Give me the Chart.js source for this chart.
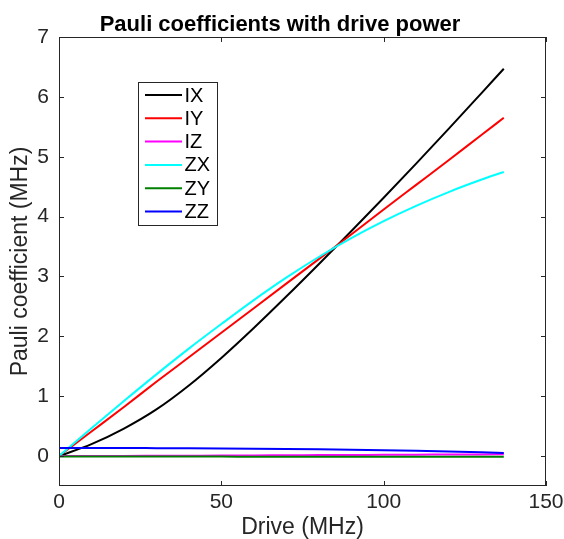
<!DOCTYPE html>
<html>
<head>
<meta charset="utf-8">
<script src="https://cdn.jsdelivr.net/npm/chart.js@4/dist/chart.umd.min.js"></script>
<style>
    html, body { margin: 0; padding: 0; background: #fff; }
    #wrap { width: 564px; height: 539px; }
</style>
</head>
<body>
<div id="wrap"><canvas id="chart" width="564" height="539"></canvas></div>
<script>
const drive = [0, 10, 20, 30, 40, 50, 60, 70, 80, 90, 100, 110, 120, 130, 137];

const IX = [0, 0.20, 0.46, 0.78, 1.18, 1.64, 2.14, 2.665, 3.205, 3.755, 4.315, 4.885, 5.465, 6.055, 6.47];
const IY = [0, 0.41, 0.82, 1.24, 1.65, 2.06, 2.47, 2.88, 3.29, 3.7, 4.12, 4.53, 4.94, 5.36, 5.65];
const IZ = [0, 0.001, 0.002, 0.004, 0.006, 0.008, 0.011, 0.013, 0.016, 0.018, 0.021, 0.023, 0.026, 0.028, 0.03];
const ZX = [0, 0.465, 0.92, 1.365, 1.795, 2.205, 2.605, 2.98, 3.325, 3.64, 3.925, 4.18, 4.41, 4.615, 4.745];
const ZY = [-0.008, -0.008, -0.008, -0.009, -0.009, -0.009, -0.01, -0.01, -0.01, -0.011, -0.011, -0.012, -0.012, -0.013, -0.013];
const ZZ = [0.135, 0.135, 0.134, 0.132, 0.13, 0.127, 0.123, 0.118, 0.112, 0.105, 0.097, 0.087, 0.075, 0.062, 0.052];

const seriesNames = ["IX", "IY", "IZ", "ZX", "ZY", "ZZ"];
const seriesValues = [IX, IY, IZ, ZX, ZY, ZZ];
const seriesColors = ["#000000", "#ff0000", "#ff00ff", "#00ffff", "#008000", "#0000ff"];

const xTicks = [0, 50, 100, 150];
const yTicks = [0, 1, 2, 3, 4, 5, 6, 7];

const FONT = "'Liberation Sans', Arial, Helvetica, sans-serif";
const AXIS = "#262626";

// box, inward ticks, title and legend in MATLAB style
const matlabStyle = {
    id: "matlabStyle",
    afterDatasetsDraw(chart) {
        const { ctx, chartArea: a, scales } = chart;
        ctx.save();
        ctx.strokeStyle = AXIS;
        ctx.lineWidth = 1;
        ctx.strokeRect(a.left + 0.5, a.top + 0.5, a.right - a.left - 1, a.bottom - a.top - 1);

        const tl = 5;
        ctx.beginPath();
        xTicks.forEach(v => {
            const px = Math.round(scales.x.getPixelForValue(v)) + 0.5;
            ctx.moveTo(px, a.bottom); ctx.lineTo(px, a.bottom - tl);
            ctx.moveTo(px, a.top); ctx.lineTo(px, a.top + tl);
        });
        yTicks.forEach(v => {
            const py = Math.round(scales.y.getPixelForValue(v)) + 0.5;
            ctx.moveTo(a.left, py); ctx.lineTo(a.left + tl, py);
            ctx.moveTo(a.right, py); ctx.lineTo(a.right - tl, py);
        });
        ctx.stroke();

        // title
        ctx.fillStyle = "#000";
        ctx.font = "bold 22px " + FONT;
        ctx.textAlign = "center";
        ctx.textBaseline = "alphabetic";
        ctx.fillText("Pauli coefficients with drive power", 280, 31);

        // legend
        const lx = 138.5, ly = 82.5, lw = 79, lh = 143, row = 23.3;
        ctx.fillStyle = "#fff";
        ctx.fillRect(lx, ly, lw, lh);
        ctx.strokeStyle = AXIS;
        ctx.strokeRect(lx, ly, lw, lh);
        ctx.font = "20px " + FONT;
        ctx.textAlign = "left";
        ctx.textBaseline = "middle";
        chart.data.datasets.forEach((ds, i) => {
            const cy = ly + 12.5 + i * row;
            ctx.strokeStyle = ds.borderColor;
            ctx.lineWidth = 2;
            ctx.beginPath();
            ctx.moveTo(lx + 6.5, cy); ctx.lineTo(lx + 43.5, cy);
            ctx.stroke();
            ctx.fillStyle = "#000";
            ctx.fillText(ds.label, lx + 46, cy + 1);
        });
        ctx.restore();
    }
};

new Chart(document.getElementById("chart"), {
    type: "line",
    data: {
        datasets: seriesNames.map((name, i) => ({
            label: name,
            data: drive.map((d, k) => ({ x: d, y: seriesValues[i][k] })),
            borderColor: seriesColors[i],
            backgroundColor: seriesColors[i],
            borderWidth: 2,
            pointRadius: 0,
            cubicInterpolationMode: "monotone",
            order: seriesNames.length - i
        }))
    },
    options: {
        responsive: false,
        animation: false,
        events: [],
        layout: { padding: { top: 37, right: 18, left: 0, bottom: 0 } },
        plugins: {
            legend: { display: false },
            title: { display: false },
            tooltip: { enabled: false }
        },
        scales: {
            x: {
                type: "linear",
                min: 0,
                max: 150,
                grid: { display: false, drawTicks: false },
                border: { display: false },
                afterBuildTicks: s => { s.ticks = xTicks.map(v => ({ value: v })); },
                afterFit: s => { s.height = 53; s.paddingLeft = 0; s.paddingRight = 0; },
                ticks: {
                    color: AXIS,
                    padding: 4,
                    maxRotation: 0,
                    font: { family: FONT, size: 21 }
                },
                title: {
                    display: true,
                    text: "Drive (MHz)",
                    color: AXIS,
                    padding: { top: 0, bottom: 0 },
                    font: { family: FONT, size: 23, lineHeight: 1 }
                }
            },
            y: {
                type: "linear",
                min: -0.5,
                max: 7,
                grid: { display: false, drawTicks: false },
                border: { display: false },
                afterBuildTicks: s => { s.ticks = yTicks.map(v => ({ value: v })); },
                afterFit: s => { s.width = 59; s.paddingTop = 0; s.paddingBottom = 0; },
                ticks: {
                    color: AXIS,
                    padding: 10,
                    font: { family: FONT, size: 21 }
                },
                title: {
                    display: true,
                    text: "Pauli coefficient (MHz)",
                    color: AXIS,
                    padding: { top: 9, bottom: 0 },
                    font: { family: FONT, size: 23, lineHeight: 1 }
                }
            }
        }
    },
    plugins: [matlabStyle]
});
</script>
</body>
</html>
